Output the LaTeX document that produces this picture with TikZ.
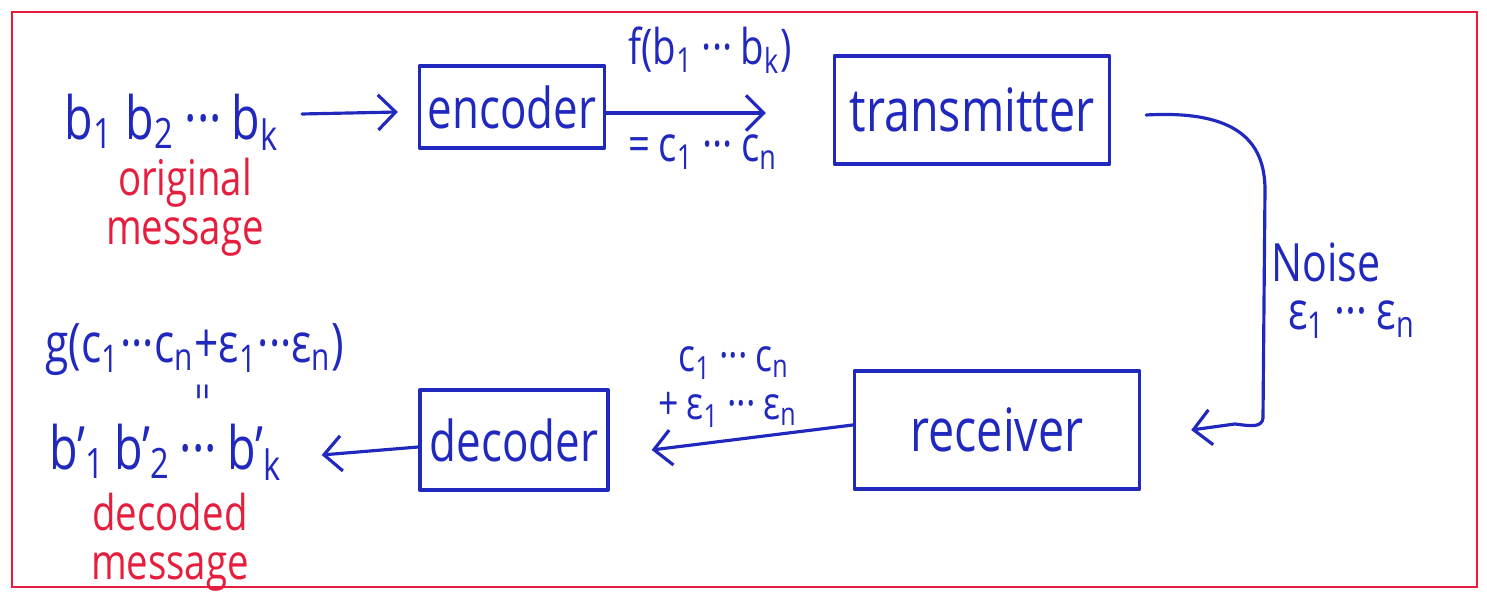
\documentclass[tikz,border=0pt]{standalone}
\usepackage{fontspec}
\setmainfont{Open Sans}[FakeStretch=0.78]
\usetikzlibrary{arrows.meta,calc}
\definecolor{penblue}{RGB}{32,40,190}
\definecolor{penred}{RGB}{228,30,60}
% b with prime and subscript
\newcommand\bpr[1]{b’\textsubscript{#1}\kern0.15em}
\newcommand\dd{\,···\,}
\begin{document}
\begin{tikzpicture}[x=0.01cm,y=-0.01cm,
  ink/.style={penblue, line width=0.9pt, line cap=round, line join=round},
  box/.style={ink, draw, rectangle, inner sep=0pt, text=penblue,
    font=\fontsize{16}{18}\selectfont},
  txt/.style={text=penblue, inner sep=0pt, font=\fontsize{17}{19}\selectfont},
  lbl/.style={text=penblue, inner sep=0pt, font=\fontsize{14}{16}\selectfont},
  note/.style={text=penred, align=center, inner sep=0pt,
    font=\fontsize{14}{14}\selectfont},
  arr/.style={ink, -{Straight Barb[length=5pt,width=10pt]}}
]
\useasboundingbox (0,0) rectangle (1487,592);
% outer frame
\draw[penred, line width=0.7pt] (12,12) rectangle (1477,587);

% top row
\node[txt] (src) at (172,122) {b\textsubscript{1} b\textsubscript{2}\dd b\textsubscript{k}};
\node[note] (orig) at (185,207) {original\\message};
\node[box, minimum width=1.85cm, minimum height=0.82cm] (enc) at (512,107) {encoder};
\node[box, minimum width=2.75cm, minimum height=1.08cm,
  font=\fontsize{17}{19}\selectfont] (tx) at (972,110) {transmitter};
\node[lbl] (fb) at (710,50) {f(b\textsubscript{1}\dd b\textsubscript{k})};
\node[lbl] (fc) at (703,152) {=\,c\textsubscript{1}\,···\,c\textsubscript{n}};

% noise
\node[txt, font=\fontsize{15}{17}\selectfont] (noise) at (1326,262) {Noise};
\node[lbl, font=\fontsize{15}{17}\selectfont] (eps) at (1352,320) {ε\textsubscript{1}\dd ε\textsubscript{n}};

% bottom row
\node[box, minimum width=2.85cm, minimum height=1.18cm,
  font=\fontsize{17}{19}\selectfont] (rx) at (997,430) {receiver};
\node[box, minimum width=1.88cm, minimum height=1.00cm] (dec) at (514,440) {decoder};
\node[lbl, font=\fontsize{13}{15}\selectfont] (rc) at (734,363) {c\textsubscript{1}\dd c\textsubscript{n}};
\node[lbl, font=\fontsize{13}{15}\selectfont] (re) at (728,410) {+\,ε\textsubscript{1}\dd ε\textsubscript{n}};
\node[txt, font=\fontsize{15.5}{17}\selectfont] (g) at (195,350)
  {g(c\textsubscript{1}···c\textsubscript{n}+ε\textsubscript{1}···ε\textsubscript{n})};
\node[lbl, rotate=90, font=\fontsize{11}{12}\selectfont] (eq) at (207,392) {=};
\node[txt] (out) at (170,452) {\bpr{1}\bpr{2}···\,\bpr{k}};
\node[note] (dmsg) at (170,542) {decoded\\message};

% connectors
\draw[arr] ($(src.east)+(22,-8)$) -- ($(enc.west)+(-20,5)$);
\draw[arr] (enc.east |- 0,113) -- ($(tx.west)+(-67,3)$);
\draw[arr] ($(tx.east)+(35,5)$)
  .. controls (1235,110) and (1265,140) .. (1265,190)
  -- (1263,418)
  .. controls (1262,428) and (1250,426) .. (1235,424)
  -- ($(rx.east)+(50,0)$);
\draw[arr] (rx.west |- 0,425) -- ($(dec.east)+(42,10)$);
\draw[arr] (dec.west |- 0,447) -- ($(out.east)+(30,3)$);
\end{tikzpicture}
\end{document}
